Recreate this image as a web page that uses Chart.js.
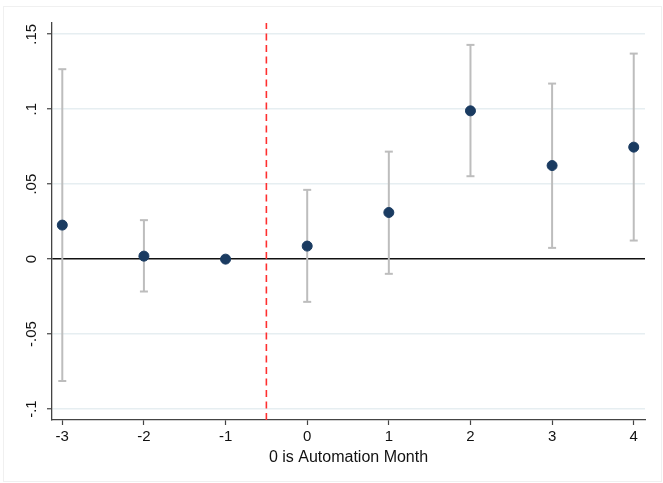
<!DOCTYPE html>
<html>
<head>
<meta charset="utf-8">
<script src="https://cdn.jsdelivr.net/npm/chart.js@4"></script>
<style>
  body { margin: 0; background: #fff; }
  #frame { position: absolute; left: 3px; top: 6px; width: 657px; height: 474px; border: 1px solid #f0f0f0; }
  #wrap { position: absolute; left: 0; top: 0; width: 663px; height: 483px; }
</style>
</head>
<body>
<div id="frame"></div>
<div id="wrap"><canvas id="chart" width="663" height="483"></canvas></div>
<script>
// event months relative to automation
const months = [-3, -2, -1, 0, 1, 2, 3, 4];
const estimates = [0.0227, 0.0020, 0, 0.0087, 0.0311, 0.0989, 0.0624, 0.0747];
const ciLow = [-0.0813, -0.0216, null, -0.0285, -0.0098, 0.0553, 0.0075, 0.0124];
const ciHigh = [0.1267, 0.0260, null, 0.0462, 0.0717, 0.1429, 0.1171, 0.1371];
const yTicks = [-0.1, -0.05, 0, 0.05, 0.1, 0.15];
const cutoff = -0.5;

const yMin = -0.1073, yMax = 0.1575;

function stataLabel(v) {
    if (Math.abs(v) < 1e-9) return '0';
    let s = String(Math.round(v * 100) / 100);
    return s.replace('0.', '.');
}

const pointSet = {
    type: 'scatter',
    data: months.map((m, i) => ({x: m, y: estimates[i]})),
    backgroundColor: '#1a3b61',
    borderColor: '#1a3b61',
    pointRadius: 5,
    pointHoverRadius: 5
};

const ciSets = [];
months.forEach((m, i) => {
    if (ciLow[i] === null) return;
    ciSets.push({
        type: 'line',
        data: [{x: m, y: ciLow[i]}, {x: m, y: ciHigh[i]}],
        borderColor: '#bdbdbd',
        borderWidth: 2,
        pointStyle: 'line',
        pointRadius: 4,
        pointBorderColor: '#bdbdbd',
        pointBorderWidth: 2,
        pointHoverRadius: 4
    });
});

const cutoffSet = {
    type: 'line',
    data: [{x: cutoff, y: yMin}, {x: cutoff, y: yMax}],
    borderColor: '#ff2f2f',
    borderWidth: 1.6,
    borderDash: [7, 4.5],
    pointRadius: 0
};

const fontFam = 'Liberation Sans, Arial, sans-serif';

const ctx = document.getElementById('chart').getContext('2d');
const chart = new Chart(ctx, {
    type: 'scatter',
    data: { datasets: [pointSet, ...ciSets, cutoffSet] },
    options: {
        responsive: false,
        animation: false,
        layout: { padding: { top: 23, right: 18, left: 0, bottom: 0 } },
        plugins: { legend: { display: false }, tooltip: { enabled: false } },
        scales: {
            x: {
                type: 'linear',
                min: -3.126,
                max: 4.138,
                afterBuildTicks: s => { s.ticks = months.map(v => ({value: v})); },
                afterFit: s => { s.height = 63; },
                ticks: {
                    color: '#111',
                    padding: 3,
                    font: { family: fontFam, size: 15 },
                    callback: v => String(v)
                },
                grid: { drawOnChartArea: false, tickLength: 5, tickColor: '#444', tickWidth: 1.2 },
                border: { display: true, color: '#444', width: 1.3 },
                title: {
                    display: true,
                    text: '0 is Automation Month',
                    color: '#111',
                    font: { family: fontFam, size: 16 },
                    padding: { top: 0, bottom: 16 }
                }
            },
            y: {
                type: 'linear',
                min: yMin,
                max: yMax,
                afterBuildTicks: s => { s.ticks = yTicks.map(v => ({value: v})); },
                afterFit: s => { s.width = 52; },
                ticks: {
                    color: '#111',
                    minRotation: 90,
                    maxRotation: 90,
                    crossAlign: 'center',
                    padding: 2,
                    font: { family: fontFam, size: 15 },
                    callback: v => stataLabel(v)
                },
                grid: {
                    color: c => (c.tick && Math.abs(c.tick.value) < 1e-9) ? '#111' : '#e6eef1',
                    lineWidth: c => (c.tick && Math.abs(c.tick.value) < 1e-9) ? 1.4 : 1.5,
                    tickLength: 5,
                    tickColor: '#444',
                    tickWidth: 1.2
                },
                border: { display: true, color: '#444', width: 1.3 }
            }
        }
    }
});
</script>
</body>
</html>
